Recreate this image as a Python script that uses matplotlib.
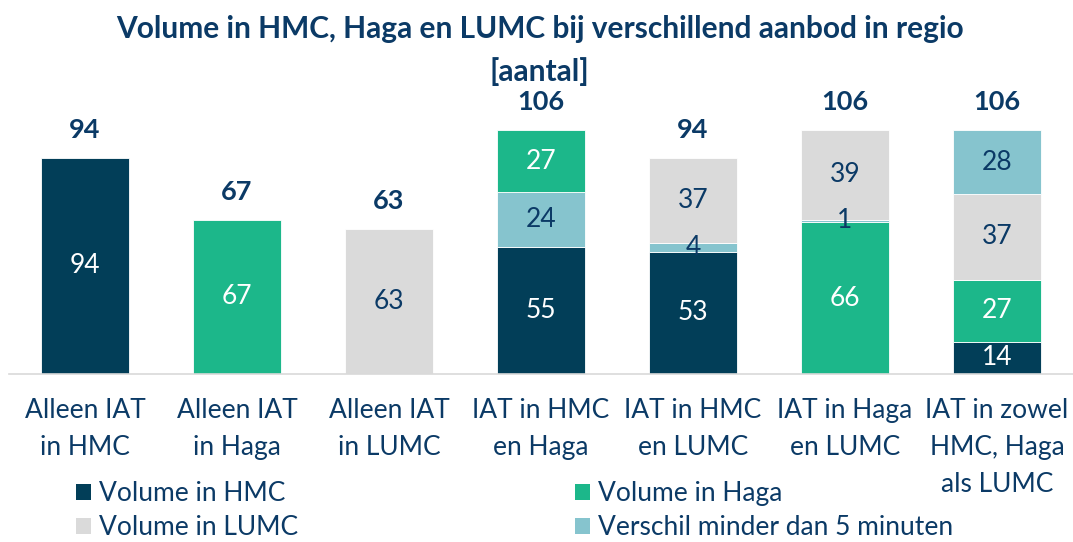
import numpy as np
import matplotlib.pyplot as plt
from matplotlib.patches import Patch

plt.rcParams['font.family'] = ['Lato', 'DejaVu Sans']

# Data
categories = ['Alleen IAT\nin HMC', 'Alleen IAT\nin Haga', 'Alleen IAT\nin LUMC',
              'IAT in HMC\nen Haga', 'IAT in HMC\nen LUMC', 'IAT in Haga\nen LUMC',
              'IAT in zowel\nHMC, Haga\nals LUMC']
hmc = [94, 0, 0, 55, 53, 0, 14]
haga = [0, 67, 0, 27, 0, 66, 27]
lumc = [0, 0, 63, 0, 37, 39, 37]
verschil = [0, 0, 0, 24, 4, 1, 28]

series = {'HMC': hmc, 'Haga': haga, 'LUMC': lumc, 'Verschil': verschil}
legend_names = {'HMC': 'Volume in HMC', 'Haga': 'Volume in Haga',
                'LUMC': 'Volume in LUMC', 'Verschil': 'Verschil minder dan 5 minuten'}

# volgorde van stapelen per balk (van onder naar boven)
stack_order = [
    ['HMC', 'Haga', 'LUMC', 'Verschil'],
    ['HMC', 'Haga', 'LUMC', 'Verschil'],
    ['HMC', 'Haga', 'LUMC', 'Verschil'],
    ['HMC', 'Verschil', 'Haga', 'LUMC'],
    ['HMC', 'Verschil', 'Haga', 'LUMC'],
    ['HMC', 'Haga', 'Verschil', 'LUMC'],
    ['HMC', 'Haga', 'LUMC', 'Verschil'],
]

colors = {'HMC': '#023E58', 'Haga': '#1CB78A', 'LUMC': '#DADADA', 'Verschil': '#86C4CE'}
text_colors = {'HMC': 'white', 'Haga': 'white', 'LUMC': '#0B3A66', 'Verschil': '#0B3A66'}
navy = '#0B3A66'

fig = plt.figure(figsize=(10.73, 5.42), dpi=100)
ax = fig.add_axes([9 / 1073, 168 / 542, 1064 / 1073, 274 / 542])

x = np.arange(len(categories))
width = 0.58

for i in range(len(categories)):
    bottom = 0
    for key in stack_order[i]:
        val = series[key][i]
        if val == 0:
            continue
        ax.bar(x[i], val, width, bottom=bottom, color=colors[key],
               edgecolor='white', linewidth=0.6)
        ax.text(x[i], bottom + val / 2, str(val), ha='center', va='center',
                fontsize=19, color=text_colors[key])
        bottom += val
    ax.annotate(str(bottom), (x[i], bottom), xytext=(0, 20), textcoords='offset points',
                ha='center', va='center', fontsize=19.5, fontweight='bold', color=navy)

ax.set_xlim(-0.5, len(categories) - 0.5)
ax.set_ylim(0, 119)
ax.set_xticks(x)
ax.set_xticklabels(categories, fontsize=19, color=navy, linespacing=1.62)
ax.tick_params(axis='x', length=0, pad=17)
ax.set_yticks([])
for s in ['top', 'right', 'left']:
    ax.spines[s].set_visible(False)
ax.spines['bottom'].set_color('#D9D9D9')
ax.spines['bottom'].set_linewidth(1.2)

fig.text(0.503, 0.972, 'Volume in HMC, Haga en LUMC bij verschillend aanbod in regio\n[aantal]',
         ha='center', va='top', fontsize=21.5, fontweight='bold', color=navy,
         linespacing=1.6)

handles = [Patch(facecolor=colors[k], edgecolor='none') for k in ['HMC', 'LUMC', 'Haga', 'Verschil']]
labels = [legend_names[k] for k in ['HMC', 'LUMC', 'Haga', 'Verschil']]
fig.legend(handles, labels, ncol=2, loc='upper left', bbox_to_anchor=(58 / 1073, 79 / 542),
           frameon=False, fontsize=19, labelcolor=navy, handlelength=0.55, handleheight=0.55,
           handletextpad=0.3, columnspacing=10.5, labelspacing=0.33, borderpad=0.2)

fig.savefig('out.png', dpi=100)
